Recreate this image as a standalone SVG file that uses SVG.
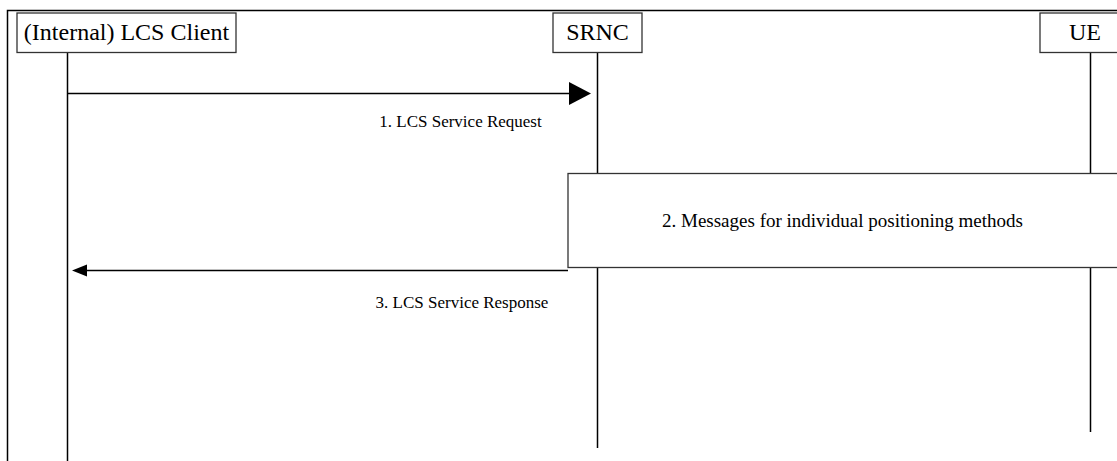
<svg xmlns="http://www.w3.org/2000/svg" width="1117" height="461" viewBox="0 0 1117 461">
<style>
.box{fill:#fff;stroke:#333;stroke-width:1.3}
.ln{stroke:#000;stroke-width:1.5;fill:none}
.t{font-family:"Liberation Serif","Times New Roman",serif;fill:#000}
.big{font-size:24px}
.lbl{font-size:17px}
.msg{font-size:19px}
</style>
<rect width="1117" height="461" fill="#fff"/>
<g id="frame">
<path class="ln" d="M7.5,461 V10.5 H1117"/>
</g>
<g id="lifelines">
<path class="ln" d="M67.5,53 V461"/>
<path class="ln" d="M597.5,53 V173 M597.5,267 V448"/>
<path class="ln" d="M1090.5,53 V173 M1090.5,267 V432"/>
</g>
<g id="client">
<rect class="box" x="17" y="13" width="219" height="39.5"/>
<text class="t big" x="126.5" y="39.5" text-anchor="middle">(Internal) LCS Client</text>
</g>
<g id="srnc">
<rect class="box" x="553" y="13" width="89" height="39.5"/>
<text class="t big" x="597.5" y="39.5" text-anchor="middle">SRNC</text>
</g>
<g id="ue">
<rect class="box" x="1040" y="13" width="80" height="39.5"/>
<text class="t big" x="1085" y="39.5" text-anchor="middle">UE</text>
</g>
<g id="positioning">
<rect class="box" x="568" y="173.5" width="552" height="94"/>
<text class="t msg" x="842.5" y="227" text-anchor="middle">2. Messages for individual positioning methods</text>
</g>
<g id="connectors">
<g id="msg1">
<path class="ln" d="M67.5,93.5 H572"/>
<polygon points="591,93.5 569,82 569,105" fill="#000"/>
<text class="t lbl" x="460.5" y="127" text-anchor="middle">1. LCS Service Request</text>
</g>
<g id="msg3">
<path class="ln" d="M568,270.5 H84"/>
<polygon points="72,270.5 87,264.5 87,276.5" fill="#000"/>
<text class="t lbl" x="462" y="308" text-anchor="middle">3. LCS Service Response</text>
</g>
</g>
</svg>
